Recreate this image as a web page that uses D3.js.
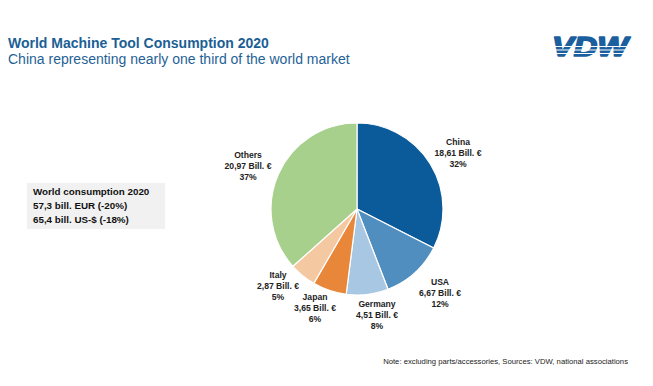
<!DOCTYPE html>
<html>
<head>
<meta charset="utf-8">
<script src="https://cdn.jsdelivr.net/npm/d3@7"></script>
<style>
  html, body { margin: 0; padding: 0; background: #fff; }
  svg { display: block; font-family: "Liberation Sans", Arial, sans-serif; }
</style>
</head>
<body>
<div id="chart"></div>
<script>
// data
const countries = ["China", "USA", "Germany", "Japan", "Italy", "Others"];
const values = [18.61, 6.67, 4.51, 3.65, 2.87, 20.97];
const valueLabels = ["18,61 Bill. €", "6,67 Bill. €", "4,51 Bill. €", "3,65 Bill. €", "2,87 Bill. €", "20,97 Bill. €"];
const shares = ["32%", "12%", "8%", "6%", "5%", "37%"];
const sliceColors = ["#0b5a9a", "#4f8ebf", "#a8c7e2", "#e8873a", "#f4c9a2", "#a8d08d"];
const infoLines = ["World consumption 2020", "57,3 bill. EUR (-20%)", "65,4 bill. US-$ (-18%)"];

const width = 653, height = 386;
const cx = 357, cy = 209, radius = 86;

// label anchor points (centre x, first line centre y)
const labelPos = {
  China: [458, 142],
  USA: [440, 282],
  Germany: [377, 304],
  Japan: [315, 297],
  Italy: [278, 275],
  Others: [248, 155]
};

const data = countries.map((c, i) => ({name: c, value: values[i], label: valueLabels[i], share: shares[i], color: sliceColors[i]}));

const svg = d3.select("#chart").append("svg")
    .attr("width", width)
    .attr("height", height)
    .attr("viewBox", [0, 0, width, height]);

// titles
svg.append("text")
    .attr("x", 8).attr("y", 48)
    .attr("font-size", 14)
    .attr("font-weight", "bold")
    .attr("fill", "#1b5f95")
    .text("World Machine Tool Consumption 2020");

svg.append("text")
    .attr("x", 8).attr("y", 64)
    .attr("font-size", 14)
    .attr("fill", "#1f6296")
    .text("China representing nearly one third of the world market");

// VDW logo
const logo = svg.append("g");
logo.append("text")
    .attr("x", 552).attr("y", 56)
    .attr("font-size", 27)
    .attr("font-weight", "bold")
    .attr("font-style", "italic")
    .attr("textLength", 76)
    .attr("lengthAdjust", "spacingAndGlyphs")
    .attr("fill", "#1b5f9e")
    .attr("stroke", "#1b5f9e")
    .attr("stroke-width", 1.6)
    .attr("stroke-linejoin", "round")
    .text("VDW");
logo.selectAll("line")
    .data([46.5, 50, 53.5])
    .join("line")
    .attr("x1", 545).attr("x2", 635)
    .attr("y1", d => d).attr("y2", d => d)
    .attr("stroke", "#fff")
    .attr("stroke-width", 1.1);

// info box
svg.append("rect")
    .attr("x", 27).attr("y", 183)
    .attr("width", 138).attr("height", 46)
    .attr("fill", "#f1f1f1");

svg.append("g")
    .attr("font-size", 9.8)
    .attr("font-weight", "bold")
    .attr("fill", "#111")
    .selectAll("text")
    .data(infoLines)
    .join("text")
    .attr("x", 33)
    .attr("y", (d, i) => 195 + i * 14)
    .text(d => d);

// pie
const pie = d3.pie().sort(null).value(d => d.value);
const arc = d3.arc().innerRadius(0).outerRadius(radius);

svg.append("g")
    .attr("transform", `translate(${cx},${cy})`)
    .selectAll("path")
    .data(pie(data))
    .join("path")
    .attr("d", arc)
    .attr("fill", d => d.data.color)
    .attr("stroke", "#fff")
    .attr("stroke-width", 1.2);

// slice labels
const labels = svg.append("g")
    .attr("font-size", 8.6)
    .attr("font-weight", "bold")
    .attr("fill", "#222")
    .attr("text-anchor", "middle")
    .selectAll("text")
    .data(data)
    .join("text")
    .attr("transform", d => `translate(${labelPos[d.name][0]},${labelPos[d.name][1]})`);

labels.each(function (d) {
    const t = d3.select(this);
    [d.name, d.label, d.share].forEach((s, i) => {
        t.append("tspan")
            .attr("x", 0)
            .attr("y", i * 11)
            .attr("dy", "0.35em")
            .text(s);
    });
});

// footnote
svg.append("text")
    .attr("x", 628).attr("y", 364)
    .attr("text-anchor", "end")
    .attr("font-size", 7.7)
    .attr("fill", "#222")
    .text("Note: excluding parts/accessories, Sources: VDW, national associations");
</script>
</body>
</html>
